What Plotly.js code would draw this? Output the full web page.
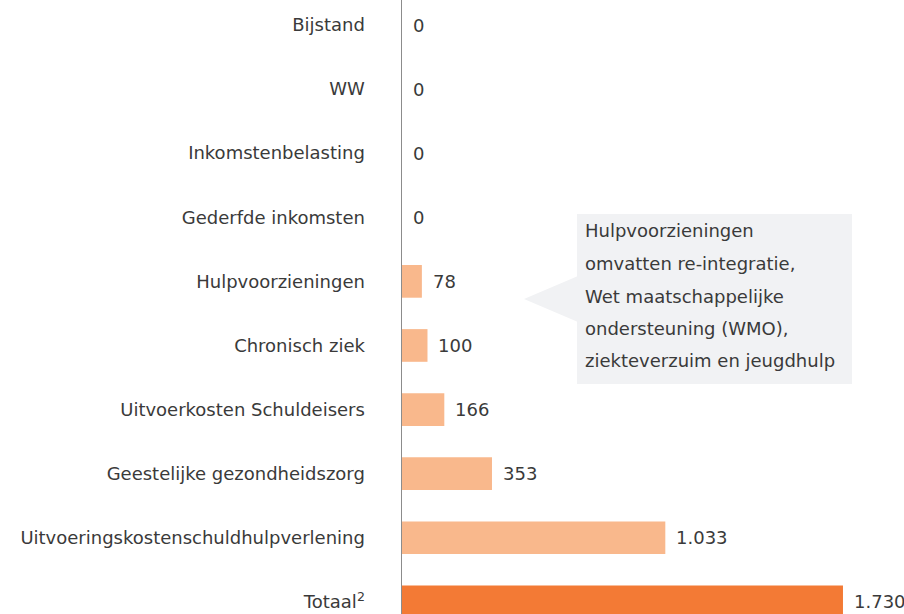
<!DOCTYPE html>
<html>
<head>
<meta charset="utf-8">
<script src="https://cdn.plot.ly/plotly-3.0.1.min.js"></script>
<style>html,body{margin:0;padding:0;background:#fff;}#chart{width:904px;height:614px;}</style>
</head>
<body>
<div id="chart"></div>
<script>
var categories = ["Bijstand", "WW", "Inkomstenbelasting", "Gederfde inkomsten", "Hulpvoorzieningen", "Chronisch ziek", "Uitvoerkosten Schuldeisers", "Geestelijke gezondheidszorg", "Uitvoeringskostenschuldhulpverlening", "Totaal<sup>2</sup>"];
var values = [0, 0, 0, 0, 78, 100, 166, 353, 1033, 1730];
var barColors = ["#F9B88C", "#F9B88C", "#F9B88C", "#F9B88C", "#F9B88C", "#F9B88C", "#F9B88C", "#F9B88C", "#F9B88C", "#F37A35"];
var calloutLines = ["Hulpvoorzieningen", "omvatten re-integratie,", "Wet maatschappelijke", "ondersteuning (WMO),", "ziekteverzuim en jeugdhulp"];

function fmt(v){ return String(v).replace(/\B(?=(\d{3})+(?!\d))/g, "."); }

var FONT = "DejaVu Sans, sans-serif";
var TXT = "#3A3A3A";
var FS = 18;

var W = 904, H = 614, L = 402;
function px(x){ return (x - L) / (W - L); }
function py(y){ return 1 - y / H; }

var annotations = values.map(function(v, i){
  return {x: v, y: categories[i], xref: "x", yref: "y", text: fmt(v), showarrow: false,
    xanchor: "left", yanchor: "middle", xshift: 9, font: {family: FONT, size: FS, color: TXT}};
});
var lineY = [231, 263, 296, 328, 360];
calloutLines.forEach(function(t, i){
  annotations.push({x: px(583), y: py(lineY[i]), xref: "paper", yref: "paper", text: t, showarrow: false,
    xanchor: "left", yanchor: "middle", font: {family: FONT, size: FS, color: TXT}});
});

var shapes = [
  {type: "rect", xref: "paper", yref: "paper", x0: px(577), x1: px(852), y0: py(384), y1: py(214),
   fillcolor: "#F1F2F4", line: {width: 0}, layer: "below"},
  {type: "path", xref: "paper", yref: "paper",
   path: "M " + px(578) + " " + py(276) + " L " + px(524) + " " + py(299) + " L " + px(578) + " " + py(322) + " Z",
   fillcolor: "#F1F2F4", line: {width: 0}, layer: "below"}
];

var trace = {
  type: "bar", orientation: "h", x: values, y: categories,
  marker: {color: barColors}, width: 0.51, hoverinfo: "none"
};

var layout = {
  width: W, height: H,
  margin: {l: L, r: 0, t: 0, b: 0},
  paper_bgcolor: "#fff", plot_bgcolor: "#fff",
  showlegend: false,
  xaxis: {range: [0, (W - L) / 0.2549], showgrid: false, zeroline: false, showticklabels: false, showline: false, fixedrange: true},
  yaxis: {type: "category", range: [9.19, -0.39], showgrid: false, zeroline: false,
    showline: true, linecolor: "#8C8C8C", linewidth: 1.5, ticks: "", ticklabelstandoff: 32,
    tickfont: {family: FONT, size: FS, color: TXT}, fixedrange: true},
  annotations: annotations,
  shapes: shapes
};

Plotly.newPlot("chart", [trace], layout, {displayModeBar: false, staticPlot: true});
</script>
</body>
</html>
